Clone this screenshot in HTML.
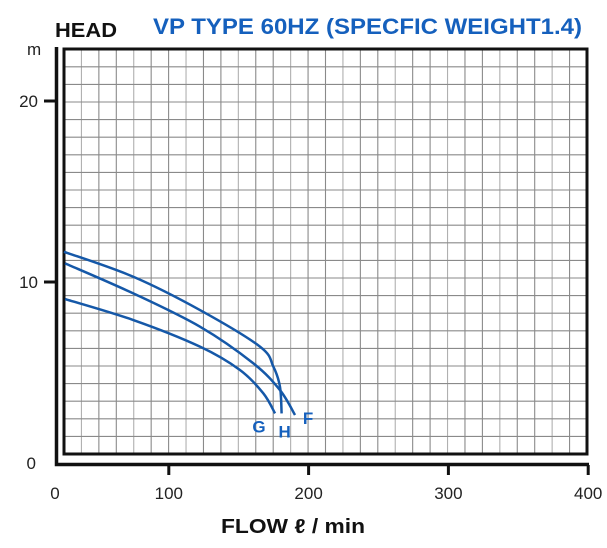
<!DOCTYPE html>
<html><head><meta charset="utf-8"><style>
body{margin:0;background:#fff}
svg{display:block;font-family:"Liberation Sans",sans-serif}
</style></head><body>
<svg width="607" height="548" viewBox="0 0 607 548" id="c">
<text x="55" y="37" font-size="20" font-weight="bold" fill="#111" textLength="62" lengthAdjust="spacingAndGlyphs">HEAD</text>
<text x="153" y="34" font-size="22" font-weight="bold" fill="#1560bd" textLength="429" lengthAdjust="spacingAndGlyphs">VP TYPE 60HZ (SPECFIC WEIGHT1.4)</text>
<text x="27" y="55" font-size="17" fill="#222">m</text>
<text x="221" y="533" font-size="20" font-weight="bold" fill="#111" textLength="144" lengthAdjust="spacingAndGlyphs">FLOW ℓ / min</text>
<g id="grid"></g>
<g id="axes"></g>
<g id="curves"></g>
</svg>
<script>
const xTicks=[100,200,300,400];
const yTicks=[0,10,20];
const seriesNames=["H","F","G"];
const hFlow=[25,74.6,122.3,165.2,174.8,179.5,180.7];
const hHead=[11.67,10.29,8.45,6.43,5.32,4.22,2.74];
const fFlow=[25.8,74.6,122.3,160.4,179.5,190.3];
const fHead=[11.03,9.37,7.53,5.51,4.03,2.65];
const gFlow=[25.8,74.6,122.3,150.9,167.6,176];
const gHead=[9.06,7.9,6.43,5.14,3.85,2.74];
const X=v=>29+1.398*v, Y=v=>463-18.1*v;
const NS="http://www.w3.org/2000/svg";
function mk(t,a,p){const e=document.createElementNS(NS,t);for(const k in a)e.setAttribute(k,a[k]);p.appendChild(e);return e;}
const grid=document.getElementById('grid'),axes=document.getElementById('axes'),cur=document.getElementById('curves');
for(let i=1;i<30;i++){const x=64+i*523/30;const l=mk('line',{x1:x,x2:x,y1:49,y2:454,stroke:i%3==1?'#b0b0b0':'#8a8a8a','stroke-width':1.1},grid);
}
for(let i=1;i<23;i++){const y=454-i*17.6;const l=mk('line',{x1:64,x2:587,y1:y,y2:y,stroke:'#8a8a8a','stroke-width':1.1},grid);
}
let b=mk('rect',{x:64,y:49,width:523,height:405,fill:'none',stroke:'#111','stroke-width':3},axes);

let a=mk('path',{d:'M56.5 47V464.5H589',fill:'none',stroke:'#111','stroke-width':3.5},axes);

xTicks.forEach(v=>{const t=mk('line',{x1:X(v),x2:X(v),y1:465,y2:475,stroke:'#111','stroke-width':3},axes);

const s=mk('text',{x:X(v),y:499,'font-size':17,'text-anchor':'middle',fill:'#222'},axes);s.textContent=v;
});
const z=mk('text',{x:55,y:499,'font-size':17,'text-anchor':'middle',fill:'#222'},axes);z.textContent='0';

yTicks.forEach(v=>{if(v>0){const t=mk('line',{x1:44,x2:55,y1:Y(v),y2:Y(v),stroke:'#111','stroke-width':3},axes);
}
const s=mk('text',{x:v>0?38:36,y:Y(v)+6,'font-size':17,'text-anchor':'end',fill:'#222'},axes);s.textContent=v;
});
function curve(fl,hd,name){let d='';const p=fl.map((f,i)=>[X(f),Y(hd[i])]);
d='M'+p[0][0]+' '+p[0][1];
for(let i=0;i<p.length-1;i++){const p0=p[i-1]||p[i],p1=p[i],p2=p[i+1],p3=p[i+2]||p2;
d+=' C'+(p1[0]+(p2[0]-p0[0])/6)+' '+(p1[1]+(p2[1]-p0[1])/6)+' '+(p2[0]-(p3[0]-p1[0])/6)+' '+(p2[1]-(p3[1]-p1[1])/6)+' '+p2[0]+' '+p2[1];}
const e=mk('path',{d:d,fill:'none',stroke:'#1558a8','stroke-width':2.5},cur);
return p[p.length-1];}
const ends=[curve(hFlow,hHead,'H'),curve(fFlow,fHead,'F'),curve(gFlow,gHead,'G')];
const off=[[3,24],[13,9],[-16,19]];
seriesNames.forEach((n,i)=>{const t=mk('text',{x:ends[i][0]+off[i][0],y:ends[i][1]+off[i][1],'font-size':17,'font-weight':'bold',fill:'#1560bd','text-anchor':'middle'},cur);
t.textContent=n;});
</script>
</body></html>
